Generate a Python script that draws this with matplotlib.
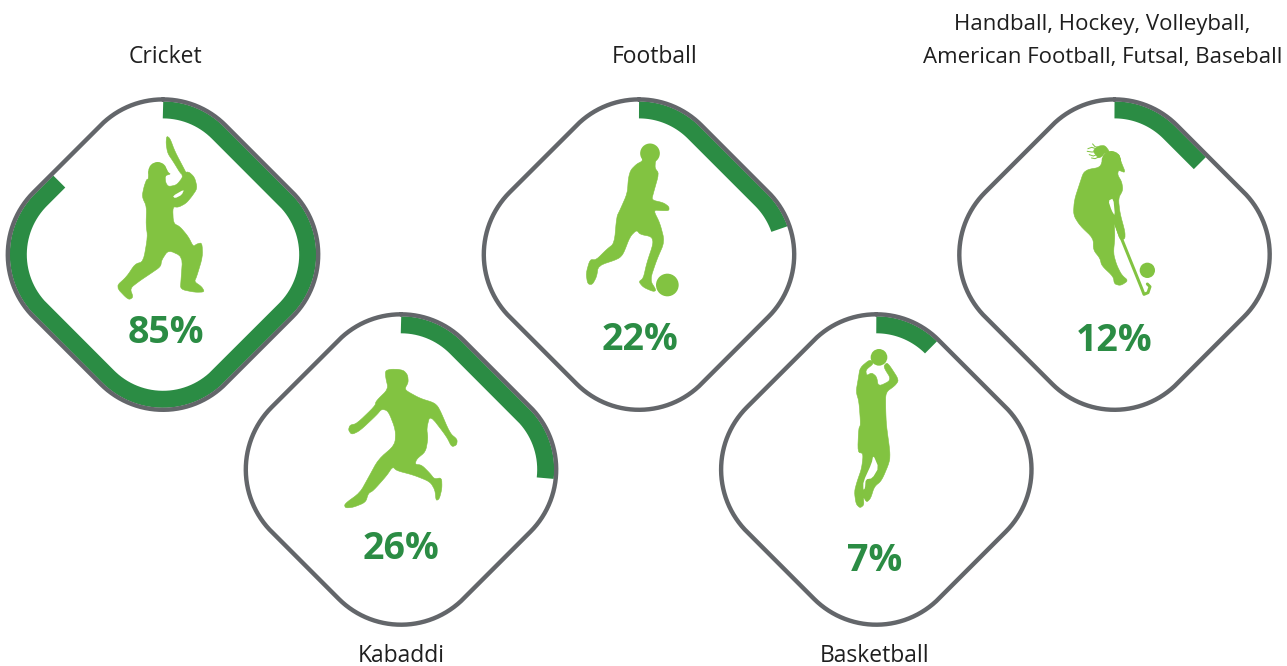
#!/usr/bin/env python3
"""Share of sports as progress bands running round rounded diamonds."""

import numpy as np
import matplotlib
matplotlib.use('Agg')
import matplotlib.pyplot as plt
from matplotlib.patches import Circle, Polygon

sports = ['Cricket', 'Kabaddi', 'Football', 'Basketball', 'Hockey']
shares = [85, 26, 22, 7, 12]
captions = [
  'Cricket',
  'Kabaddi',
  'Football',
  'Basketball',
  'Handball, Hockey, Volleyball,\nAmerican Football, Futsal, Baseball',
]
caption_sizes = [16.5, 16.5, 16.5, 16.5, 16]

DARK_GREEN = '#2B8C44'
LIGHT_GREEN = '#82C341'
GREY = '#63666A'
TEXT = '#1F1F1F'
DPI = 100
PX = 72 / DPI  # points per pixel

centres = {
  'Cricket': (163, 254.6),
  'Kabaddi': (401, 469.5),
  'Football': (639, 254.6),
  'Basketball': (876.3, 469.5),
  'Hockey': (1114.5, 254.6),
}
percent_pos = {
  'Cricket': (166, 333),
  'Kabaddi': (401, 549),
  'Football': (639.5, 340),
  'Basketball': (875, 561),
  'Hockey': (1114.5, 341),
}
caption_pos = {
  'Cricket': (165, 57),
  'Kabaddi': (401, 656),
  'Football': (654.5, 57),
  'Basketball': (874.5, 656),
  'Hockey': (1102.5, 41),
}

# Silhouette outlines, in 3x pixels from the origin of each icon box
icon_origin = {
  'Cricket': (0, 90),
  'Kabaddi': (240, 305),
  'Football': (480, 90),
  'Basketball': (715, 305),
  'Hockey': (950, 90),
}
icon_shapes = {
  'Cricket': [
    [(500, 138), (510, 145), (525, 185), (553, 238), (560, 252), (545, 256), (520, 215),
     (503, 190), (498, 160)],
    [(498, 235), (505, 248), (512, 252), (495, 257), (497, 278), (505, 290),
     (530, 285), (548, 262), (545, 252), (565, 244), (584, 262), (592, 295), (575, 320),
     (558, 340), (535, 352), (518, 350), (520, 400), (540, 410), (565, 440), (580, 470),
     (590, 462), (606, 458), (608, 500), (590, 560), (583, 575), (605, 590), (614, 606),
     (585, 607), (541, 598), (543, 570), (548, 500), (505, 480), (485, 510), (482, 530),
     (450, 552), (420, 572), (390, 595), (400, 622), (385, 630), (347, 590), (380, 560),
     (405, 522), (430, 515), (443, 440), (438, 405), (440, 350), (426, 320), (432, 290),
     (440, 268), (445, 268), (446, 240), (465, 225)],
  ],
  'Kabaddi': [
    [(436, 197), (455, 192), (490, 195), (503, 210), (505, 232), (495, 250), (500, 258),
     (540, 280), (582, 293), (597, 308), (630, 385), (652, 403), (650, 420), (635, 426),
     (620, 395), (570, 330), (560, 370), (564, 400), (557, 440), (530, 462), (525, 478),
     (545, 480), (570, 505), (583, 522), (605, 518), (606, 550), (598, 582), (588, 587),
     (585, 555), (570, 530), (520, 510), (470, 497), (458, 485), (440, 512), (400, 557),
     (385, 565), (377, 592), (340, 607), (316, 609), (313, 597), (360, 563), (385, 518),
     (415, 463), (465, 420), (467, 375), (445, 318), (425, 312), (410, 330), (360, 377),
     (335, 389), (325, 375), (330, 360), (350, 356), (405, 303), (408, 288), (445, 252),
     (437, 218)],
  ],
  'Football': [
    [(488, 205), (486, 214), (470, 222), (452, 240), (445, 265), (442, 310), (420, 360),
     (410, 380), (403, 460), (380, 478), (348, 510), (330, 508), (318, 550), (323, 582),
     (337, 584), (350, 560), (355, 527), (415, 507), (430, 492), (450, 440), (470, 420),
     (480, 433), (515, 440), (520, 460), (500, 520), (490, 565), (476, 575), (490, 592),
     (520, 605), (529, 601), (510, 570), (530, 510), (554, 455), (540, 400), (520, 360),
     (545, 362), (567, 362), (567, 350), (550, 338), (515, 330), (520, 310), (537, 250),
     (525, 235), (526, 215), (530, 200)],
  ],
  'Basketball': [
    [(465, 163), (435, 188), (430, 220), (423, 260), (432, 290), (437, 360), (431, 370),
     (428, 442), (445, 445), (440, 490), (426, 530), (418, 560), (423, 597), (435, 609),
     (447, 600), (445, 575), (455, 592), (467, 580), (478, 545), (500, 527), (524, 470),
     (525, 440), (514, 360), (512, 310), (512, 262), (540, 242), (552, 225), (525, 183),
     (515, 173), (505, 185), (530, 225), (490, 245), (485, 215), (470, 203), (455, 212),
     (452, 195), (477, 175)],
  ],
  'Hockey': [
    [(505, 188), (513, 215), (527, 249), (505, 240), (503, 255), (515, 275),
     (519, 300), (505, 325), (510, 370), (525, 425), (525, 447), (510, 449), (500, 420),
     (492, 390), (495, 440), (490, 490), (500, 525), (515, 555), (535, 572), (512, 587),
     (493, 582), (490, 560), (455, 527), (450, 505), (430, 480), (430, 445), (390, 407),
     (370, 375), (373, 330), (390, 278), (400, 248), (415, 238), (450, 232), (460, 205)],
    [(480, 187), (465, 166), (445, 168), (428, 182), (445, 205), (458, 198), (462, 190)],
  ],
}
icon_holes = {
  'Cricket': [[(518, 318), (553, 298), (545, 315), (525, 325)]],
  'Basketball': [[(475, 450), (491, 488), (472, 520), (452, 523), (450, 550), (445, 555),
                  (445, 530), (470, 475)]],
  'Hockey': [[(475, 332), (490, 325), (495, 378), (485, 362)]],
}
icon_balls = {
  'Cricket': [(473, 244, 28)],
  'Kabaddi': [(472, 224, 30)],
  'Football': [(510, 190, 29.5), (562, 585, 34)],
  'Basketball': [(492, 157, 25)],
  'Hockey': [(484, 212, 29), (592, 541, 23)],
}
hockey_stick = [(490, 385), (575, 595), (582, 613), (594, 608), (600, 590), (592, 582)]
hair_strands = [
  [(445, 178), (425, 172), (414, 176)],
  [(445, 185), (425, 186), (412, 184)],
  [(445, 192), (430, 198), (418, 194)],
  [(448, 200), (435, 206), (425, 204)],
  [(445, 172), (435, 170), (428, 162)],
]


def diamond_path(half_extent, radius, n=90):
  """Clockwise outline of a rounded diamond, from the top, relative to its centre."""
  inset = half_extent - radius
  corners = [(0, -inset), (inset, 0), (0, inset), (-inset, 0)]
  pts = []
  # half of the top corner, then right, bottom and left, then the other half of the top
  spans = [(-90, -45, 0), (-45, 45, 1), (45, 135, 2), (135, 225, 3), (225, 270, 0)]
  for start, stop, idx in spans:
    a = np.radians(np.linspace(start, stop, n))
    cx, cy = corners[idx]
    pts.append(np.column_stack([cx + radius * np.cos(a), cy + radius * np.sin(a)]))
  return np.vstack(pts)


def cut_path(path, fraction):
  """Leading part of a path, by length."""
  seg = np.hypot(*np.diff(path, axis=0).T)
  dist = np.concatenate([[0], np.cumsum(seg)])
  target = dist[-1] * fraction
  keep = dist < target
  end = [np.interp(target, dist, path[:, 0]), np.interp(target, dist, path[:, 1])]
  return np.vstack([path[keep], end])


def to_fig(points, origin):
  pts = np.asarray(points, dtype=float) / 3
  return pts + origin


def soften(points, rounds=2):
  """Corner cutting, so traced outlines lose their straight facets."""
  pts = np.asarray(points, dtype=float)
  for _ in range(rounds):
    nxt = np.roll(pts, -1, axis=0)
    pts = np.column_stack([0.8 * pts + 0.2 * nxt, 0.2 * pts + 0.8 * nxt]).reshape(-1, 2)
  return pts


plt.rcParams['font.family'] = ['Open Sans', 'DejaVu Sans']

fig = plt.figure(figsize=(12.87, 6.66), dpi=DPI)
ax = fig.add_axes([0, 0, 1, 1])
ax.set_xlim(0, 1287)
ax.set_ylim(666, 0)
ax.axis('off')

outline = diamond_path(155.2, 88)
band_line = diamond_path(144.7, 77.5)

for sport, share, caption, size in zip(sports, shares, captions, caption_sizes):
  cx, cy = centres[sport]

  band = cut_path(band_line, share / 100)
  ax.plot(band[:, 0] + cx, band[:, 1] + cy, color=DARK_GREEN, lw=17 * PX,
          solid_capstyle='butt', solid_joinstyle='round', zorder=2)
  ax.plot(outline[:, 0] + cx, outline[:, 1] + cy, color=GREY, lw=4.4 * PX,
          solid_capstyle='round', zorder=3)

  origin = icon_origin[sport]
  for shape in icon_shapes[sport]:
    ax.add_patch(Polygon(to_fig(soften(shape), origin), closed=True, fc=LIGHT_GREEN,
                         ec=LIGHT_GREEN, lw=0.4, joinstyle='round', zorder=4))
  for bx, by, br in icon_balls.get(sport, []):
    ax.add_patch(Circle((bx / 3 + origin[0], by / 3 + origin[1]), br / 3,
                        fc=LIGHT_GREEN, ec='none', zorder=4))
  for hole in icon_holes.get(sport, []):
    ax.add_patch(Polygon(to_fig(soften(hole, 1), origin), closed=True, fc='white',
                         ec='none', zorder=5))

  px, py = percent_pos[sport]
  ax.text(px, py, f'{share}%', color=DARK_GREEN, fontsize=27, fontweight='bold',
          ha='center', va='center', zorder=6)

  tx, ty = caption_pos[sport]
  ax.text(tx, ty, caption, color=TEXT, fontsize=size, ha='center', va='center',
          linespacing=1.7, zorder=6)

# Hockey stick and the loose strands of the ponytail
origin = icon_origin['Hockey']
stick = to_fig(hockey_stick, origin)
ax.plot(stick[:, 0], stick[:, 1], color=LIGHT_GREEN, lw=3 * PX, zorder=4,
        solid_capstyle='round', solid_joinstyle='round')
for strand in hair_strands:
  s = to_fig(strand, origin)
  ax.plot(s[:, 0], s[:, 1], color=LIGHT_GREEN, lw=1 * PX, zorder=4)

fig.savefig('out.png', dpi=DPI)
